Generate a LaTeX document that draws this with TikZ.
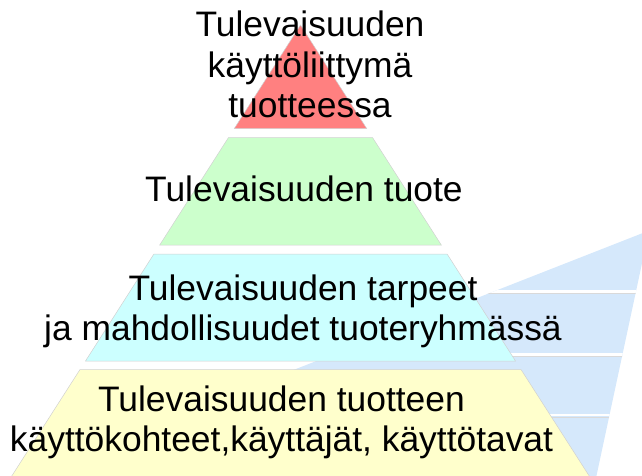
\documentclass[tikz,border=0pt]{standalone}
\usepackage{fontspec}
\setmainfont{Liberation Sans}
\definecolor{layerred}{HTML}{FF8080}
\definecolor{layergreen}{HTML}{CCFFCC}
\definecolor{layercyan}{HTML}{CCFFFF}
\definecolor{layeryellow}{HTML}{FFFFCC}
\definecolor{wedgeblue}{HTML}{D5E8FB}
\begin{document}
\begin{tikzpicture}[x=1pt,y=-1pt,
  layer/.style={draw=black!18,line width=0.5pt},
  label/.style={align=center,inner sep=0pt,anchor=base,
    font=\fontsize{35.4}{40.5}\selectfont},
  gap/.style={white,line width=2.6pt},
  gapedge/.style={black!15,line width=0.6pt}]
\useasboundingbox (0,0) rectangle (642,475);
% blue wedge behind the pyramid
\begin{scope}
  \clip (0,0) rectangle (642,475);
  \fill[wedgeblue] (649,230.6) -- (594.5,485) -- (0,485) -- cycle;
  \begin{scope}
    \clip (649,230.6) -- (594.5,485) -- (0,485) -- cycle;
    \foreach \yy in {291.5,354.5,415}{
      \draw[gap] (0,\yy) -- (660,\yy);
      \draw[gapedge] (0,\yy+1.8) -- (660,\yy+1.8);
    }
  \end{scope}
\end{scope}
% pyramid layers
\filldraw[layer,fill=layerred] (300.5,25) -- (366.7,128.5) -- (234.3,128.5) -- cycle;
\filldraw[layer,fill=layergreen] (228.5,137.5) -- (372.5,137.5) -- (441.3,245) -- (159.7,245) -- cycle;
\filldraw[layer,fill=layercyan] (153.9,254) -- (447.1,254) -- (515.5,361) -- (85.5,361) -- cycle;
\begin{scope}
  \clip (0,0) rectangle (642,475);
  \filldraw[layer,fill=layeryellow] (80,369.5) -- (521,369.5) -- (595,485) -- (6,485) -- cycle;
\end{scope}
% texts (anchor base = baseline of the last line)
\node[label] (t1) at (310,117.7) {Tulevaisuuden\\käyttöliittymä\\tuotteessa};
\node[label] (t2) at (304,201.7) {Tulevaisuuden tuote};
\node[label] (t3) at (303,340.5) {Tulevaisuuden tarpeet\\ja mahdollisuudet tuoteryhmässä};
\node[label] (t4) at (281.5,451.5) {Tulevaisuuden tuotteen\\käyttökohteet,käyttäjät, käyttötavat};
\end{tikzpicture}
\end{document}
